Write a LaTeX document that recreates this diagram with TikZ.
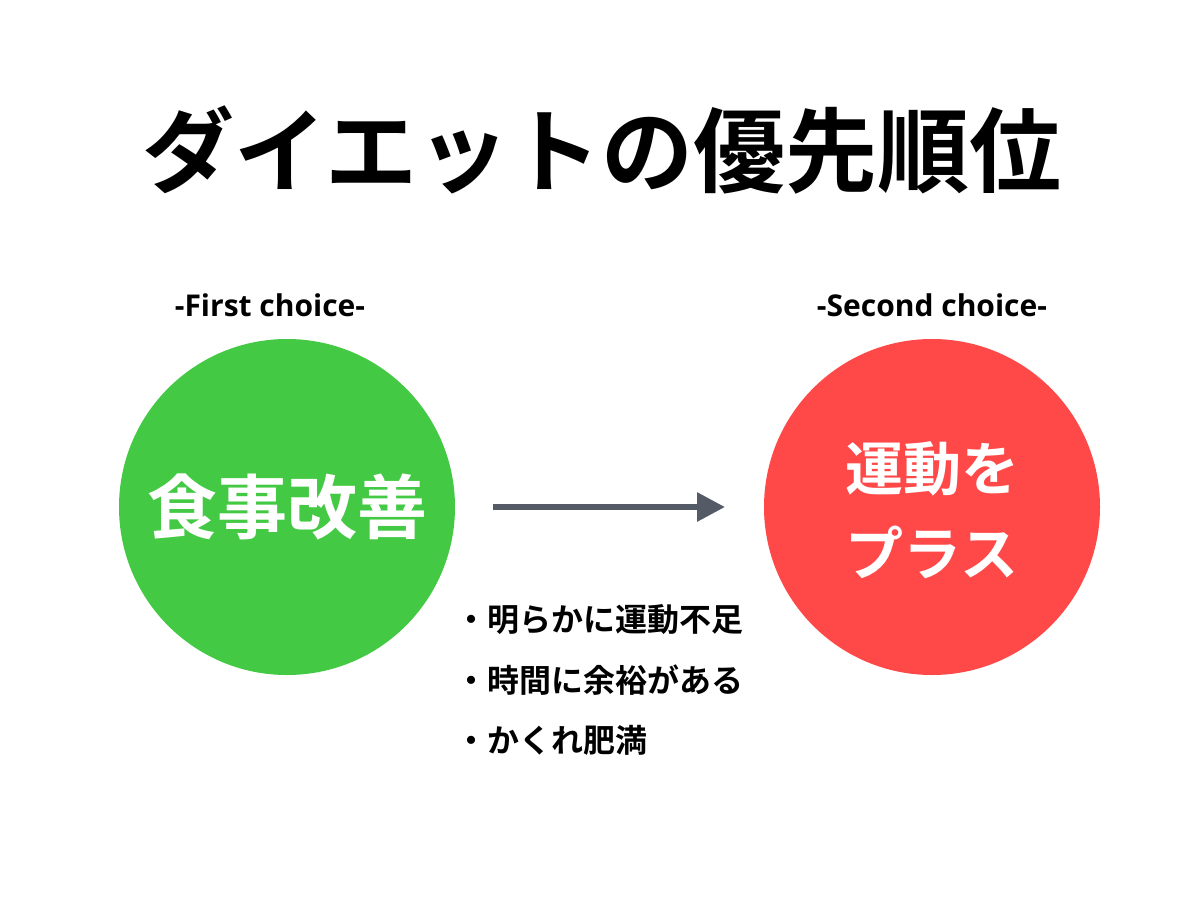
\documentclass[tikz,border=0pt]{standalone}
\usepackage{fontspec}
\setmainfont{Noto Sans CJK JP Bold}
\newfontfamily\latinf{Open Sans}
\usetikzlibrary{arrows.meta}
\definecolor{cgreen}{HTML}{44C944}
\definecolor{cred}{HTML}{FF4949}
\definecolor{cgray}{HTML}{545A66}
\tikzset{
  circ/.style={circle,minimum size=336pt,inner sep=0pt},
  lab/.style={font=\latinf\bfseries\fontsize{30}{34}\selectfont},
  bul/.style={font=\fontsize{32}{36}\selectfont,anchor=west},
  ctext/.style={text=white,align=center}
}
\begin{document}
\begin{tikzpicture}[x=1pt,y=-1pt]
\useasboundingbox[fill=white] (0,0) rectangle (1197,900);
\node (title) at (602,150) {\fontsize{92}{96}\selectfont ダイエットの優先順位};
\node[lab] (l1) at (270,305) {-First choice-};
\node[lab] (l2) at (932,305) {-Second choice-};
\node[circ,fill=cgreen] (g) at (287,507) {};
\node[ctext,font=\fontsize{70}{74}\selectfont] (gt) at (287,507) {食事改善};
\node[circ,fill=cred] (r) at (932,507) {};
\node[ctext,font=\fontsize{58}{85}\selectfont] (rt) at (932,510) {運動を\\プラス};
\coordinate (a1) at (493,507);
\coordinate (a2) at (725,507);
\draw[cgray,line width=6pt,-{Triangle[length=28pt,width=28pt]}] (a1) -- (a2);
\node[bul] (b1) at (452,620) {・明らかに運動不足};
\node[bul] (b2) at (452,680) {・時間に余裕がある};
\node[bul] (b3) at (452,740) {・かくれ肥満};
\end{tikzpicture}
\end{document}
